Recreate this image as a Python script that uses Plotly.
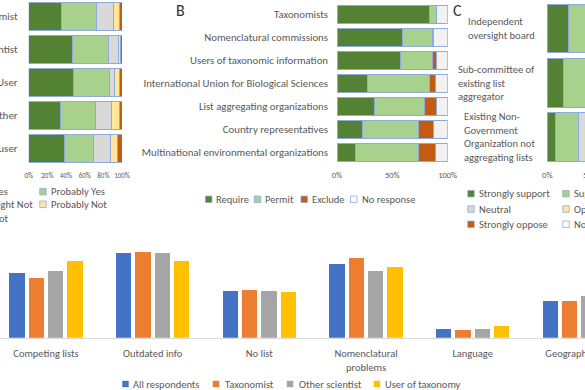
import plotly.graph_objects as go

W, H = 585, 390


def px(x):
    return x / W


def py(y):
    return 1 - y / H


FONT = "Carlito, Lato, sans-serif"
TXT = "#595959"
OUTLINE = "#8FAADC"

# ---------------- Panel A ----------------
a_rows = ["Taxonomist", "Other scientist", "Taxonomy User", "Neither", "Casual user"]
a_names = ["Definitely Yes", "Probably Yes", "Might or Might Not", "Probably Not", "Definitely Not"]
a_definitely_yes = [35.6, 47.0, 47.7, 34.0, 38.8]
a_probably_yes = [37.0, 38.0, 39.0, 37.4, 31.0]
a_might = [17.8, 11.7, 5.3, 17.8, 17.8]
a_probably_not = [6.4, 1.5, 5.7, 8.2, 7.1]
a_definitely_not = [3.2, 1.8, 2.3, 2.6, 5.3]
a_ticks = [0, 20, 40, 60, 80, 100]
a_ticklabels = ["0%", "20%", "40%", "60%", "80%", "100%"]

# ---------------- Panel B ----------------
b_rows = ["Taxonomists", "Nomenclatural commissions", "Users of taxonomic information",
          "International Union for Biological Sciences", "List aggregating organizations",
          "Country representatives", "Multinational environmental organizations"]
b_names = ["Require", "Permit", "Exclude", "No response"]
b_require = [83.5, 59.2, 57.7, 27.6, 33.6, 23.1, 16.5]
b_permit = [6.0, 27.3, 28.8, 55.9, 45.6, 50.2, 56.8]
b_exclude = [0.0, 0.9, 3.3, 5.4, 10.5, 13.5, 15.6]
b_no_response = [10.5, 12.6, 10.2, 11.1, 10.3, 13.2, 11.1]
b_ticks = [0, 50, 100]
b_ticklabels = ["0%", "50%", "100%"]

# ---------------- Panel C ----------------
c_rows = ["Independent oversight board", "Sub-committee of existing list aggregator",
          "Existing Non-Government Organization not aggregating lists"]
c_row_labels = ["Independent<br>oversight board", "Sub-committee of<br>existing list<br>aggregator",
                "Existing Non-<br>Government<br>Organization not<br>aggregating lists"]
c_names = ["Strongly support", "Support", "Neutral", "Oppose", "Strongly oppose", "No response"]
c_strongly_support = [25.0, 19.5, 10.0]
c_support = [45.0, 48.0, 26.7]
c_neutral = [17.0, 20.0, 38.0]
c_oppose = [5.0, 5.0, 12.0]
c_strongly_oppose = [3.0, 3.0, 6.0]
c_no_response = [5.0, 4.5, 7.3]

# ---------------- Bottom panel ----------------
d_categories = ["Competing lists", "Outdated info", "No list", "Nomenclatural problems",
                "Language", "Geographic bias"]
d_ticklabels = ["Competing lists", "Outdated info", "No list", "Nomenclatural<br>problems",
                "Language", "Geographic bias"]
d_names = ["All respondents", "Taxonomist", "Other scientist", "User of taxonomy"]
d_all = [45.5, 60.0, 32.8, 52.0, 5.9, 26.1]
d_taxonomist = [41.9, 60.5, 33.7, 56.3, 5.4, 25.7]
d_other = [47.1, 60.0, 33.0, 47.3, 6.1, 29.2]
d_user = [54.4, 54.4, 32.2, 50.1, 8.0, 31.0]

DK_GREEN = "#548235"
LT_GREEN = "#A9D18E"
GRAY = "#D9D9D9"
YELLOW = "#FFE699"
RUST = "#C55A11"
NORESP = "#F2F2F2"
BLUE = "#4472C4"
ORANGE = "#ED7D31"
MGRAY = "#A5A5A5"
GOLD = "#FFC000"

FS = 10.5

fig = go.Figure()

# Panel A traces
for vals, col in zip([a_definitely_yes, a_probably_yes, a_might, a_probably_not, a_definitely_not],
                     [DK_GREEN, LT_GREEN, GRAY, YELLOW, RUST]):
    fig.add_trace(go.Bar(y=a_rows, x=vals, orientation="h", xaxis="x", yaxis="y", width=0.82,
                         marker=dict(color=col, line=dict(color=OUTLINE, width=1)),
                         showlegend=False, hoverinfo="skip"))

# Panel B traces
for vals, col in zip([b_require, b_permit, b_exclude, b_no_response],
                     [DK_GREEN, LT_GREEN, RUST, NORESP]):
    fig.add_trace(go.Bar(y=b_rows, x=vals, orientation="h", xaxis="x2", yaxis="y2", width=0.8,
                         marker=dict(color=col, line=dict(color=OUTLINE, width=1)),
                         showlegend=False, hoverinfo="skip"))

# Panel C traces
for vals, col in zip([c_strongly_support, c_support, c_neutral, c_oppose, c_strongly_oppose, c_no_response],
                     [DK_GREEN, LT_GREEN, GRAY, YELLOW, RUST, NORESP]):
    fig.add_trace(go.Bar(y=c_rows, x=vals, orientation="h", xaxis="x3", yaxis="y3", width=0.9,
                         marker=dict(color=col, line=dict(color=OUTLINE, width=1)),
                         showlegend=False, hoverinfo="skip"))

# Bottom grouped bars (each series on its own overlaid x axis so they don't stack)
d_offsets = [-0.344, -0.163, 0.019, 0.200]
for vals, col, xa, off in zip([d_all, d_taxonomist, d_other, d_user],
                              [BLUE, ORANGE, MGRAY, GOLD],
                              ["x4", "x5", "x6", "x7"], d_offsets):
    fig.add_trace(go.Bar(x=d_categories, y=vals, xaxis=xa, yaxis="y4", width=0.144, offset=off,
                         marker=dict(color=col, line=dict(width=0)),
                         showlegend=False, hoverinfo="skip"))

D_RANGE = [-0.431, 5.053]
NOAX = dict(showgrid=False, zeroline=False, showline=False, ticks="", automargin=False)

layout = dict(
    width=W, height=H, margin=dict(l=0, r=0, t=0, b=0, pad=0), autosize=False,
    paper_bgcolor="white", plot_bgcolor="white",
    barmode="stack", showlegend=False,
    font=dict(family=FONT, color=TXT),
    xaxis=dict(domain=[px(28.7), px(122)], range=[0, 100], anchor="y",
               tickvals=a_ticks, ticktext=a_ticklabels, tickangle=0,
               tickfont=dict(size=7, color=TXT), ticklabelstandoff=5, **NOAX),
    yaxis=dict(domain=[py(165), py(0)], range=[4.5, -0.5], anchor="x", type="category",
               categoryorder="array", categoryarray=a_rows,
               tickfont=dict(size=11, color=TXT), ticklabelstandoff=10, **NOAX),
    xaxis2=dict(domain=[px(337), px(447.7)], range=[0, 100], anchor="y2",
                tickvals=b_ticks, ticktext=b_ticklabels, tickangle=0,
                tickfont=dict(size=8.5, color=TXT), ticklabelstandoff=4, **NOAX),
    yaxis2=dict(domain=[py(164), py(2.7)], range=[6.5, -0.5], anchor="x2", type="category",
                categoryorder="array", categoryarray=b_rows,
                tickfont=dict(size=10.8, color=TXT), ticklabelstandoff=8, **NOAX),
    xaxis3=dict(domain=[px(547.3), 1], range=[0, (585 - 547.3) / 0.854], anchor="y3",
                tickvals=[0], ticktext=["0%"], tickangle=0,
                tickfont=dict(size=8.5, color=TXT), ticklabelstandoff=4, **NOAX),
    yaxis3=dict(domain=[py(164.1), py(1.4)], range=[2.5, -0.5], anchor="x3", type="category",
                categoryorder="array", categoryarray=c_rows, showticklabels=False, **NOAX),
    xaxis4=dict(domain=[0, 1], range=D_RANGE, anchor="y4", type="category",
                categoryorder="array", categoryarray=d_categories,
                tickvals=d_categories, ticktext=d_ticklabels, tickangle=0,
                showgrid=False, zeroline=False, automargin=False,
                showline=True, linecolor="#D9D9D9", linewidth=1, ticks="",
                tickfont=dict(size=FS, color=TXT), ticklabelstandoff=6),
    yaxis4=dict(domain=[py(337.7), py(240)], range=[0, 97.7 / 1.4167], anchor="x4",
                visible=False, automargin=False),
)
for ax in ["xaxis5", "xaxis6", "xaxis7"]:
    layout[ax] = dict(overlaying="x4", range=D_RANGE, anchor="y4", type="category",
                      categoryorder="array", categoryarray=d_categories, visible=False,
                      automargin=False)
fig.update_layout(**layout)

shapes = []
annotations = []


def legend_item(xc, yc, color, text, tx, size=6.5, fs=FS):
    h = size / 2
    shapes.append(dict(type="rect", xref="paper", yref="paper",
                       x0=px(xc - h), x1=px(xc + h), y0=py(yc + h), y1=py(yc - h),
                       fillcolor=color, line=dict(color=OUTLINE, width=0.8)))
    annotations.append(dict(text=text, xref="paper", yref="paper", x=px(tx), y=py(yc),
                            xanchor="left", yanchor="middle", showarrow=False,
                            font=dict(size=fs, color=TXT, family=FONT)))


# Panel A legend (first column cut off at left edge)
for txt, xe, yc in zip(["Definitely Yes", "Might or Might Not", "Definitely Not"],
                       [9.5, 34.5, 10.5], [191.7, 204.3, 218.3]):
    annotations.append(dict(text=txt, xref="paper", yref="paper", x=px(xe), y=py(yc),
                            xanchor="right", yanchor="middle", showarrow=False,
                            font=dict(size=FS, color=TXT, family=FONT)))
legend_item(43, 191.7, LT_GREEN, "Probably Yes", 48.5)
legend_item(43, 204.3, YELLOW, "Probably Not", 48.5)

# Panel B legend
for xc, col, txt, tx in zip([208.7, 257.5, 304.2, 353.7], [DK_GREEN, LT_GREEN, RUST, "white"],
                            b_names, [214, 263, 310, 360]):
    legend_item(xc, 199.3, col, txt, tx)

# Panel C legend
for xc, yc, col, txt in [(471, 193.7, DK_GREEN, "Strongly support"), (566, 193.7, LT_GREEN, "Support"),
                         (471, 209, GRAY, "Neutral"), (566, 209, YELLOW, "Oppose"),
                         (471, 224.3, RUST, "Strongly oppose"), (566, 224.3, "white", "No response")]:
    legend_item(xc, yc, col, txt, xc + 6)

# Bottom legend
for xc, col, txt, tx in zip([125.5, 216, 290, 377], [BLUE, ORANGE, MGRAY, GOLD], d_names,
                            [131, 222.7, 296.7, 383.3]):
    h = 3.2
    shapes.append(dict(type="rect", xref="paper", yref="paper",
                       x0=px(xc - h), x1=px(xc + h), y0=py(384 + h), y1=py(384 - h),
                       fillcolor=col, line=dict(width=0)))
    annotations.append(dict(text=txt, xref="paper", yref="paper", x=px(tx), y=py(384),
                            xanchor="left", yanchor="middle", showarrow=False,
                            font=dict(size=FS, color=TXT, family=FONT)))

# Panel C row labels
for cat, lab in zip(c_rows, c_row_labels):
    annotations.append(dict(text=lab, xref="paper", yref="y3", x=px(537), y=cat,
                            xanchor="right", yanchor="middle", align="left", showarrow=False,
                            font=dict(size=FS, color=TXT, family=FONT)))

# Partially visible 50% tick of panel C
annotations.append(dict(text="50%", xref="paper", yref="paper", x=px(547.3 + 50 * 0.854), y=py(175),
                        xanchor="center", yanchor="middle", showarrow=False,
                        font=dict(size=8.5, color=TXT, family=FONT)))

# Panel letters
annotations.append(dict(text="B", xref="paper", yref="paper", x=px(180), y=py(10),
                        xanchor="center", yanchor="middle", showarrow=False,
                        font=dict(size=16, color="#333333", family=FONT)))
annotations.append(dict(text="C", xref="paper", yref="paper", x=px(457.5), y=py(10),
                        xanchor="center", yanchor="middle", showarrow=False,
                        font=dict(size=16, color="#333333", family=FONT)))

fig.update_layout(shapes=shapes, annotations=annotations)
fig.write_html("out.html", config={"displayModeBar": False},
               post_script="document.body.style.margin='0px';")
